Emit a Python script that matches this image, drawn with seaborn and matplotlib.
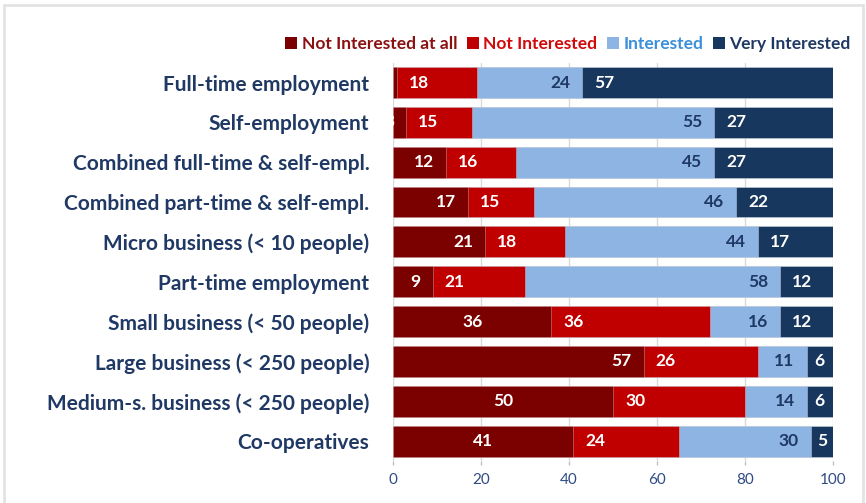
import matplotlib
matplotlib.use("Agg")
import matplotlib.pyplot as plt
from matplotlib.patches import Rectangle
import seaborn as sns
import pandas as pd
import numpy as np

# ---- data -------------------------------------------------------------
categories = [
    "Full-time employment",
    "Self-employment",
    "Combined full-time & self-empl.",
    "Combined part-time & self-empl.",
    "Micro business (< 10 people)",
    "Part-time employment",
    "Small business (< 50 people)",
    "Large business (< 250 people)",
    "Medium-s. business (< 250 people)",
    "Co-operatives",
]
series_names = ["Not Interested at all", "Not Interested", "Interested", "Very Interested"]
not_at_all = [1, 3, 12, 17, 21, 9, 36, 57, 50, 41]
not_interested = [18, 15, 16, 15, 18, 21, 36, 26, 30, 24]
interested = [24, 55, 45, 46, 44, 58, 16, 11, 14, 30]
very_interested = [57, 27, 27, 22, 17, 12, 12, 6, 6, 5]
x_ticks = [0, 20, 40, 60, 80, 100]

# ---- styling ----------------------------------------------------------
bar_colors = ["#7B0000", "#C00000", "#8DB4E2", "#17375E"]
legend_text_colors = ["#8B1111", "#D00A0A", "#3C8FD8", "#1F3864"]
value_colors = ["white", "white", "#1F3864", "white"]
# where the value label sits inside each segment of the first series
first_series_anchor = ["end", "end", "end", "end", "end", "end",
                       "center", "end", "center", "center"]
cat_color = "#1F3864"
tick_color = "#2F4B86"

sns.set_theme(style="white")
plt.rcParams["font.family"] = ["Lato", "DejaVu Sans"]

df = pd.DataFrame({
    "category": categories,
    series_names[0]: not_at_all,
    series_names[1]: not_interested,
    series_names[2]: interested,
    series_names[3]: very_interested,
})
values = df[series_names].to_numpy(dtype=float)
cum = values.cumsum(axis=1)

W, H = 866, 503
fig = plt.figure(figsize=(W / 100, H / 100), dpi=100)
ax = fig.add_axes([393 / W, 1 - 461 / H, (833 - 393) / W, (461 - 62.6) / H])

# stacked bars: draw cumulative totals from the outermost layer inward
for j in range(len(series_names) - 1, -1, -1):
    layer = pd.DataFrame({"category": categories, "total": cum[:, j]})
    sns.barplot(data=layer, y="category", x="total", orient="h",
                color=bar_colors[j], saturation=1, width=0.775,
                edgecolor=(1, 1, 1, 0.35), linewidth=0.6, ax=ax, zorder=2)

ax.set_xlim(0, 100)
ax.set_ylim(len(categories) - 0.5, -0.5)
ax.set_xticks(x_ticks)
ax.set_xticklabels([str(t) for t in x_ticks])
ax.set_xlabel("")
ax.set_ylabel("")
ax.grid(axis="x", color="#D9D9D9", linewidth=1, zorder=0)
ax.grid(axis="y", visible=False)
ax.set_axisbelow(True)
for s in ax.spines.values():
    s.set_visible(False)

ax.tick_params(axis="x", colors="#BFBFBF", length=3, width=1, pad=6,
               labelcolor=tick_color, labelsize=11, bottom=True)
ax.tick_params(axis="y", length=0, pad=17, labelcolor=cat_color, labelsize=15)
for lbl in ax.get_yticklabels():
    lbl.set_fontweight("bold")

# value labels
pad_px = 12
for i in range(len(categories)):
    for j in range(len(series_names)):
        v = values[i, j]
        left = cum[i, j] - v
        right = cum[i, j]
        if j == 0:
            anchor = first_series_anchor[i]
        elif j == 1 or j == 3:
            anchor = "base" if v >= 8 else "center"
        else:
            anchor = "end"
        if anchor == "end":
            xy, dx, ha = (right, i), -pad_px, "right"
        elif anchor == "base":
            xy, dx, ha = (left, i), pad_px, "left"
        else:
            xy, dx, ha = ((left + right) / 2, i), 0, "center"
        ax.annotate(f"{v:.0f}", xy=xy, xytext=(dx, 0), textcoords="offset pixels",
                    ha=ha, va="center", color=value_colors[j],
                    fontsize=12.5, fontweight="bold", zorder=5,
                    annotation_clip=False)

# legend with text tinted per series
handles = [Rectangle((0, 0), 1, 1, facecolor=c, edgecolor="none") for c in bar_colors]
leg = fig.legend(handles, series_names, loc="upper right",
                 bbox_to_anchor=(859 / W, 1 - 27 / H), ncol=4, frameon=False,
                 handlelength=0.7, handleheight=0.7, handletextpad=0.25,
                 columnspacing=0.55, borderpad=0,
                 prop={"family": ["Lato", "DejaVu Sans"],
                       "weight": "bold", "size": 12.5})
for t, c in zip(leg.get_texts(), legend_text_colors):
    t.set_color(c)

# light frame around the chart area
fig.add_artist(Rectangle((4 / W, -0.05), (863 - 4) / W, 1.05 - 4.5 / H,
                         transform=fig.transFigure, fill=False,
                         edgecolor="#E3E3E3", linewidth=2))

fig.savefig("out.png", dpi=100, facecolor="white")
